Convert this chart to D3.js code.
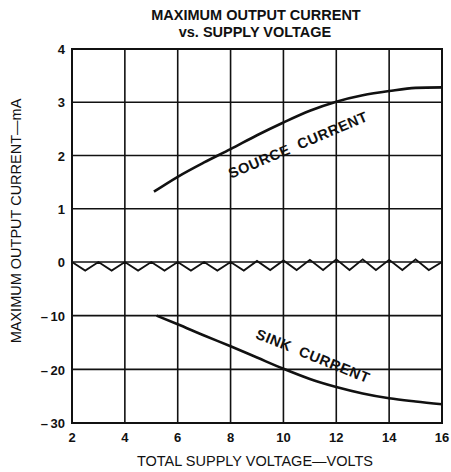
<!DOCTYPE html>
<html>
<head>
<meta charset="utf-8">
<title>Maximum output current</title>
<style>
  body { margin: 0; background: #fff; }
  svg text { font-family: "Liberation Sans", Arial, sans-serif; fill: #111; }
  .grid line { stroke: #111; stroke-width: 1.6; }
  .tick-label { font-size: 13px; font-weight: bold; }
  .title { font-size: 14.5px; font-weight: bold; }
  .axis-title { font-size: 14.5px; }
  .curve-label { font-size: 14.5px; font-weight: bold; white-space: pre; }
</style>
</head>
<body>
<script src="https://cdn.jsdelivr.net/npm/d3@7"></script>
<script>
var w = 451, h = 472;

// x ticks (volts) and y ticks (mA, axis is broken at 0)
var xTicks = [2, 4, 6, 8, 10, 12, 14, 16];
var yTicks = [-30, -20, -10, 0, 1, 2, 3, 4];

// source current, mA
var sourceV = [5.1, 6, 7, 8, 9, 10, 11, 12, 13, 14, 15, 16];
var sourceI = [1.32, 1.6, 1.87, 2.12, 2.38, 2.62, 2.84, 3.01, 3.13, 3.21, 3.27, 3.28];

// sink current, mA
var sinkV = [5.2, 6, 7, 8, 9, 10, 11, 12, 13, 14, 15, 16];
var sinkI = [-10, -11.6, -13.7, -15.7, -17.8, -19.9, -21.8, -23.3, -24.5, -25.4, -26.0, -26.5];

// zigzag break mark along the zero line
var zigV = [2, 2.5, 3, 3.5, 4, 4.5, 5, 5.5, 6, 6.5, 7, 7.5, 8, 8.5, 9, 9.5, 10, 10.5, 11, 11.5, 12, 12.5, 13, 13.5, 14, 14.5, 15, 15.5, 16];
var zigI = [0, -1.6, 0, -1.6, 0, -1.6, 0, -1.6, 0, -1.6, 0, -1.6, 0, -1.6, 0.02, -1.5, 0.03, -1.5, 0.04, -1.5, 0.05, -1.5, 0.05, -1.5, 0.04, -1.5, 0.05, -1.5, 0];

var padL = 72, padR = 442, padT = 49, zeroY = 262, padB = 423;

var x = d3.scaleLinear().domain([2, 16]).range([padL, padR]);
// piecewise: 0..4 mA on top, 0..-30 mA below
var y = d3.scaleLinear().domain([-30, 0, 4]).range([padB, zeroY, padT]);

var svg = d3.select("body").append("svg")
  .attr("width", w)
  .attr("height", h);

// grid
var grid = svg.append("g").attr("class", "grid");
grid.selectAll("line.v")
  .data(xTicks)
  .enter().append("line")
  .attr("class", "v")
  .attr("x1", function(d){ return x(d); })
  .attr("x2", function(d){ return x(d); })
  .attr("y1", y(4))
  .attr("y2", y(-30));
grid.selectAll("line.h")
  .data(yTicks)
  .enter().append("line")
  .attr("class", "h")
  .attr("x1", x(2))
  .attr("x2", x(16))
  .attr("y1", function(d){ return y(d); })
  .attr("y2", function(d){ return y(d); });

// frame
svg.append("rect")
  .attr("x", x(2)).attr("y", y(4))
  .attr("width", x(16) - x(2)).attr("height", y(-30) - y(4))
  .attr("fill", "none").attr("stroke", "#111").attr("stroke-width", 2);

// zigzag
var line = d3.line()
  .x(function(d){ return x(d[0]); })
  .y(function(d){ return y(d[1]); });
svg.append("path")
  .datum(d3.zip(zigV, zigI))
  .attr("d", line)
  .attr("fill", "none")
  .attr("stroke", "#111")
  .attr("stroke-width", 1.8)
  .attr("stroke-linejoin", "miter");

// curves
var smooth = d3.line()
  .x(function(d){ return x(d[0]); })
  .y(function(d){ return y(d[1]); })
  .curve(d3.curveMonotoneX);

svg.append("path")
  .datum(d3.zip(sourceV, sourceI))
  .attr("d", smooth)
  .attr("fill", "none").attr("stroke", "#111").attr("stroke-width", 2.6);
svg.append("path")
  .datum(d3.zip(sinkV, sinkI))
  .attr("d", smooth)
  .attr("fill", "none").attr("stroke", "#111").attr("stroke-width", 2.6);

// curve labels
svg.append("text")
  .attr("class", "curve-label")
  .attr("text-anchor", "middle")
  .attr("transform", "translate(" + x(10.55) + "," + y(2.2) + ") rotate(-23)")
  .attr("dy", "0.35em")
  .attr("letter-spacing", 0.6)
  .text("SOURCE  CURRENT");
svg.append("text")
  .attr("class", "curve-label")
  .attr("text-anchor", "middle")
  .attr("transform", "translate(" + x(11.12) + "," + y(-17.5) + ") rotate(22)")
  .attr("dy", "0.35em")
  .attr("letter-spacing", 0.6)
  .text("SINK  CURRENT");

// y tick labels
svg.selectAll("text.ylab")
  .data(yTicks)
  .enter().append("text")
  .attr("class", "tick-label ylab")
  .attr("text-anchor", "end")
  .attr("x", padL - 7)
  .attr("y", function(d){ return y(d); })
  .attr("dy", "0.4em")
  .text(function(d){ return d < 0 ? "\u2013\u2009" + (-d) : d; });

// x tick labels
svg.selectAll("text.xlab")
  .data(xTicks)
  .enter().append("text")
  .attr("class", "tick-label xlab")
  .attr("text-anchor", "middle")
  .attr("x", function(d){ return x(d); })
  .attr("y", 442)
  .text(function(d){ return d; });

// titles
svg.append("text").attr("class", "title")
  .attr("text-anchor", "middle").attr("x", 256).attr("y", 20)
  .text("MAXIMUM OUTPUT CURRENT");
svg.append("text").attr("class", "title")
  .attr("text-anchor", "middle").attr("x", 255).attr("y", 37)
  .text("vs. SUPPLY VOLTAGE");

svg.append("text").attr("class", "axis-title")
  .attr("text-anchor", "middle").attr("x", 255).attr("y", 466)
  .text("TOTAL SUPPLY VOLTAGE\u2014VOLTS");

svg.append("text").attr("class", "axis-title")
  .attr("text-anchor", "middle")
  .attr("font-size", "14px")
  .attr("transform", "translate(21,221) rotate(-90)")
  .text("MAXIMUM OUTPUT CURRENT\u2014mA");
</script>
</body>
</html>
